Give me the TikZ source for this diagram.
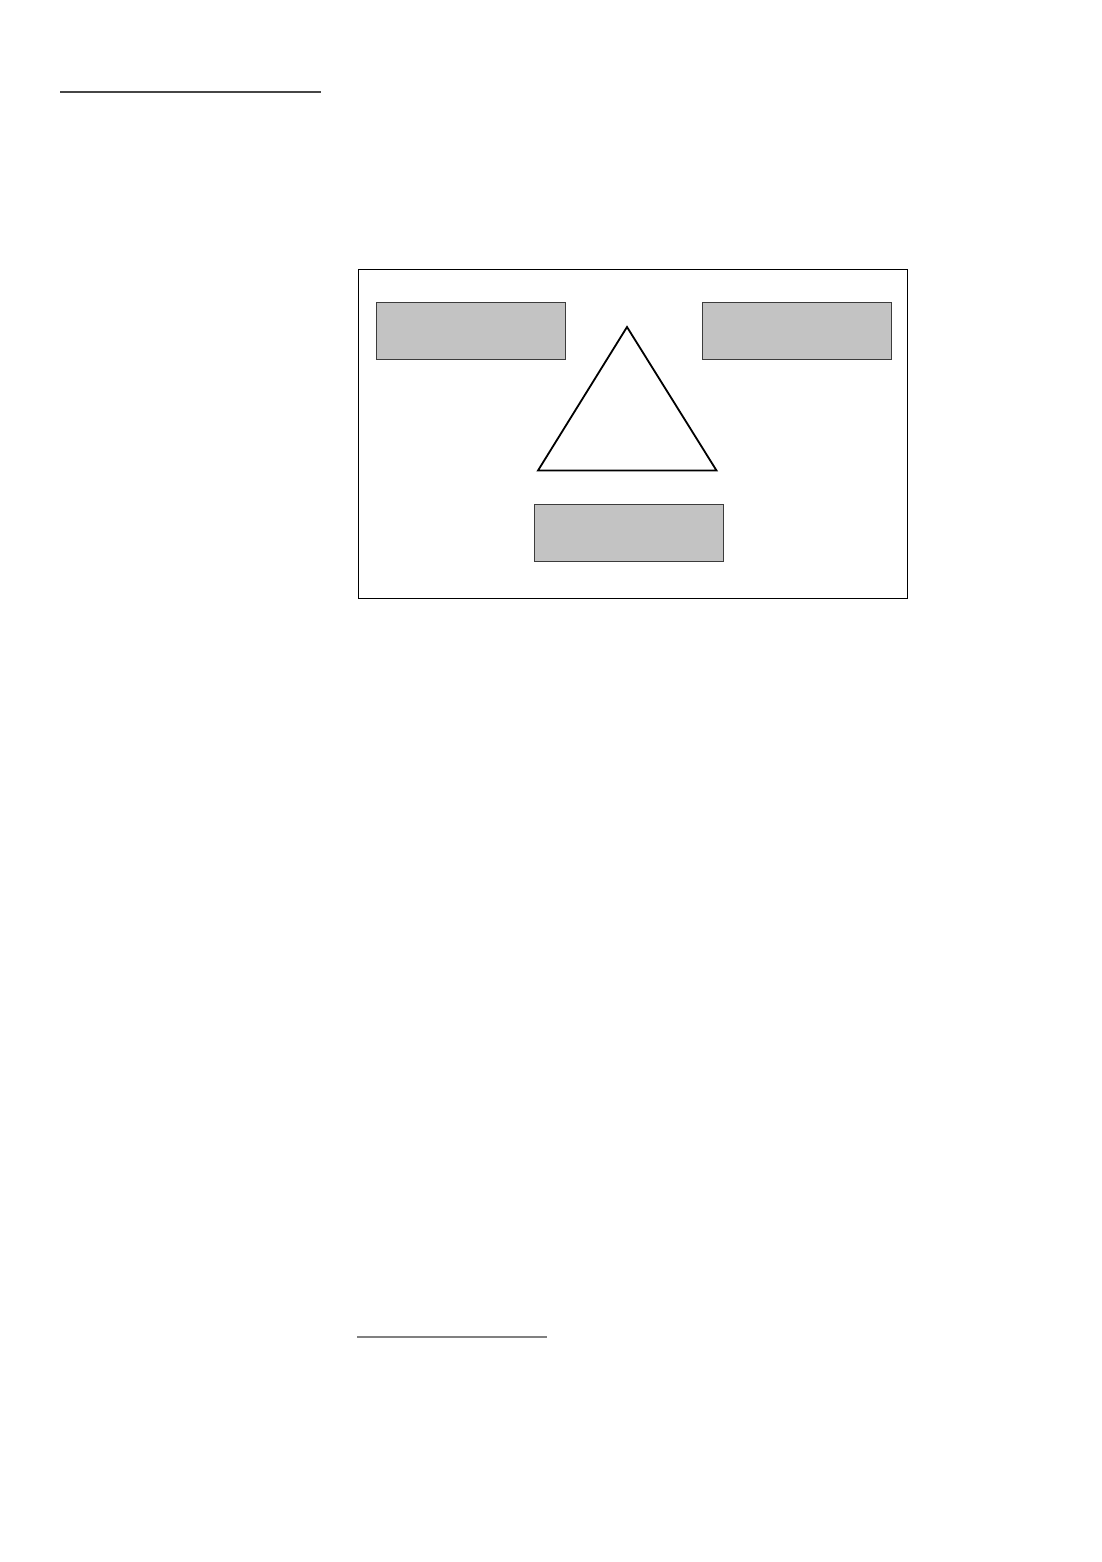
\documentclass[tikz,border=0pt]{standalone}
\definecolor{boxfill}{RGB}{195,195,195}
\definecolor{boxline}{RGB}{60,60,60}
\definecolor{ruletop}{RGB}{70,70,70}
\definecolor{rulebot}{RGB}{128,128,128}
\begin{document}
\begin{tikzpicture}[x=1pt,y=-1pt,
  graybox/.style={draw=boxline,fill=boxfill,line width=0.9pt,minimum width=189pt,minimum height=57pt,inner sep=0pt,anchor=north west},
  frame/.style={draw=black,line width=1pt},
  tri/.style={draw=black,line width=1.8pt,line join=miter}]
\useasboundingbox (0,0) rectangle (1101,1562);
\fill[white] (0,0) rectangle (1101,1562);
% rules
\draw[ruletop,line width=1.4pt] (60,92) -- (321,92);
\draw[rulebot,line width=1.3pt] (357,1337) -- (547,1337);
% frame
\draw[frame] (358,269) rectangle (907,598);
% boxes
\node[graybox] (tl) at (376,302) {};
\node[graybox] (tr) at (702,302) {};
\node[graybox] (bt) at (534,504) {};
% triangle
\draw[tri] (627,327) -- (716.5,470.5) -- (538,470.5) -- cycle;
\end{tikzpicture}
\end{document}
